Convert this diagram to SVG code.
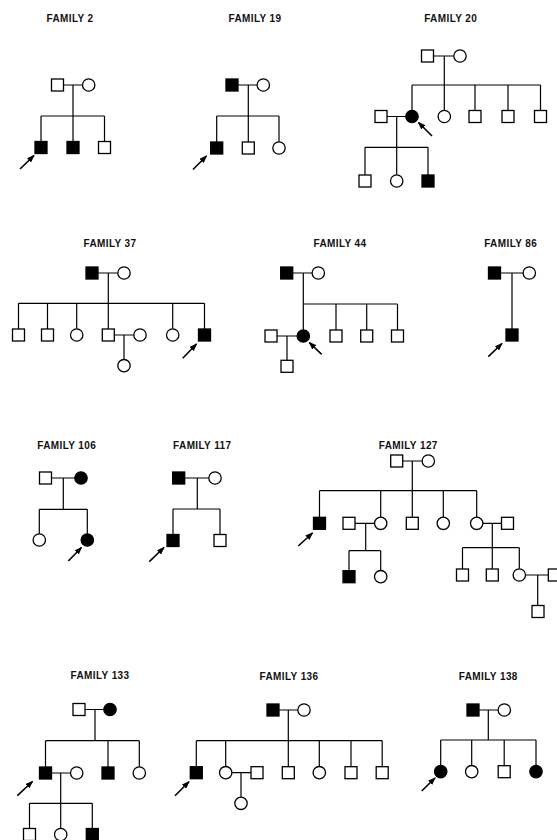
<svg xmlns="http://www.w3.org/2000/svg" xmlns:xlink="http://www.w3.org/1999/xlink" width="557" height="840" viewBox="0 0 557 840">
<style>
.t{font-family:"Liberation Sans",Arial,sans-serif;font-size:10px;font-weight:bold;letter-spacing:0.4px;text-anchor:middle;fill:#111}
.u{fill:#fff;stroke:#000;stroke-width:1.3}
.a{fill:#000;stroke:#000;stroke-width:1.3}
.c path{fill:none;stroke:#000;stroke-width:1.2}
.ar line{stroke:#000;stroke-width:1.6;marker-end:url(#ah)}
</style>
<defs>
<rect id="sq" x="-6" y="-6" width="12" height="12"/>
<circle id="ci" r="6.2"/>
<marker id="ah" viewBox="0 0 8 6" refX="7" refY="3" markerWidth="8" markerHeight="6" orient="auto" markerUnits="userSpaceOnUse"><path d="M0,0 L8,3 L0,6 z" fill="#000"/></marker>
</defs>
<rect width="557" height="840" fill="#fff"/>
<g id="titles">
<text class="t" x="70" y="21.6">FAMILY 2</text>
<text class="t" x="255" y="21.6">FAMILY 19</text>
<text class="t" x="450.7" y="21.6">FAMILY 20</text>
<text class="t" x="110" y="247">FAMILY 37</text>
<text class="t" x="340" y="247">FAMILY 44</text>
<text class="t" x="510.7" y="247">FAMILY 86</text>
<text class="t" x="66.7" y="448.7">FAMILY 106</text>
<text class="t" x="202.3" y="448.7">FAMILY 117</text>
<text class="t" x="408.3" y="448.7">FAMILY 127</text>
<text class="t" x="100" y="679">FAMILY 133</text>
<text class="t" x="289" y="680">FAMILY 136</text>
<text class="t" x="488.3" y="680">FAMILY 138</text>
</g>
<g id="connectors" class="c">
<path d="M63.5 85H82.5M73 85V116M41 116H104.5M41 116V141.5M73 116V141.5M104.5 116V141.5"/>
<path d="M238 85H257M248.3 85V116M216.7 116H279M216.7 116V142M248.3 116V142M279 116V141.8"/>
<path d="M433.5 56H453.8M444.3 56V85M412 85H540.5M412 85V110.3M444.3 85V110.3M475 85V110.5M508 85V110.5M540.5 85V110.5M387 116.5H405.8M396.7 116.5V147.3M365 147.3H428M365 147.3V175M396.7 147.3V174.8M428 147.3V175"/>
<path d="M98 273H117.8M108.3 273V303.3M18.5 303.3H204.5M18.5 303.3V329M47.5 303.3V329M76.7 303.3V328.8M108.3 303.3V329M172.7 303.3V328.8M204.5 303.3V329M114.3 335H133.8M124 335V359.5"/>
<path d="M292.7 273H312.1M303.3 273V329.8M303.3 304H397.5M336 304V330M366.7 304V330M397.5 304V330M277 336H297.1M287 336V360.3"/>
<path d="M500.5 273H523.1M512 273V329"/>
<path d="M51.5 478H74.8M63.3 478V509.3M39.3 509.3H87.3M39.3 509.3V533.8M87.3 509.3V533.8"/>
<path d="M184.7 478H208.8M197.3 478V509M173 509H220M173 509V534.5M220 509V534.5"/>
<path d="M402.7 461H422.1M412.3 461V490.7M319.5 490.7H476.7M319.5 490.7V517.3M380.7 490.7V517.1M412.3 490.7V517.3M443.3 490.7V517.1M476.7 490.7V517.1M355 523.3H374.5M365.7 523.3V550.7M349 550.7H380.7M349 550.7V570.7M380.7 550.7V570.5M483 523.3H501.5M492.3 523.3V547.7M462.5 547.7H519.3M462.5 547.7V569M492.3 547.7V569M519.3 547.7V568.8M525.5 575H548.3M537.7 575V605.5"/>
<path d="M85 709.5H103.8M95 709.5V740.7M45.5 740.7H139.3M45.5 740.7V767M108 740.7V767M139.3 740.7V766.8M51.5 773H70.5M60.7 773V803.3M29.5 803.3H92.3M29.5 803.3V828.5M60.7 803.3V828.3M92.3 803.3V828.5"/>
<path d="M279 710H297.8M288.3 710V740.7M196.3 740.7H382.2M196.3 740.7V766.7M225.7 740.7V766.5M288.3 740.7V766.7M319.3 740.7V766.5M351 740.7V766.7M382.2 740.7V766.7M232 772.7H251M241 772.7V797.1"/>
<path d="M479 710H498.1M488.3 710V740M440.7 740H536M440.7 740V765.5M471.7 740V765.5M504.2 740V765.7M536 740V765.5"/>
</g>
<g id="arrows" class="ar">
<line x1="20" y1="169" x2="34" y2="155.5"/>
<line x1="193" y1="169.5" x2="206.5" y2="156"/>
<line x1="432" y1="136" x2="418.5" y2="122.5"/>
<line x1="182.7" y1="358.3" x2="196.5" y2="344"/>
<line x1="321.7" y1="354.3" x2="309.3" y2="342.5"/>
<line x1="488.3" y1="356.7" x2="502" y2="343.5"/>
<line x1="68.3" y1="561" x2="81.5" y2="547.5"/>
<line x1="149.3" y1="561.7" x2="164" y2="547.5"/>
<line x1="298.3" y1="546" x2="312.5" y2="533"/>
<line x1="17.3" y1="795.7" x2="32.5" y2="781.5"/>
<line x1="175" y1="795.7" x2="189" y2="781.7"/>
<line x1="421.7" y1="791" x2="435" y2="778"/>
</g>
<g id="family2">
<g id="f2-father"><use href="#sq" class="u" x="57.5" y="85"/></g>
<g id="f2-mother"><use href="#ci" class="u" x="88.7" y="85"/></g>
<g id="f2-son1"><use href="#sq" class="a" x="41" y="147.5"/></g>
<g id="f2-son2"><use href="#sq" class="a" x="73" y="147.5"/></g>
<g id="f2-son3"><use href="#sq" class="u" x="104.5" y="147.5"/></g>
</g>
<g id="family19">
<g id="f19-father"><use href="#sq" class="a" x="232" y="85"/></g>
<g id="f19-mother"><use href="#ci" class="u" x="263.3" y="85"/></g>
<g id="f19-son1"><use href="#sq" class="a" x="216.7" y="148"/></g>
<g id="f19-son2"><use href="#sq" class="u" x="248.3" y="148"/></g>
<g id="f19-daughter"><use href="#ci" class="u" x="279" y="148"/></g>
</g>
<g id="family20">
<g id="f20-father"><use href="#sq" class="u" x="427.5" y="56"/></g>
<g id="f20-mother"><use href="#ci" class="u" x="460" y="56"/></g>
<g id="f20-proband"><use href="#ci" class="a" x="412" y="116.5"/></g>
<g id="f20-spouse"><use href="#sq" class="u" x="381" y="116.5"/></g>
<g id="f20-daughter"><use href="#ci" class="u" x="444.3" y="116.5"/></g>
<g id="f20-son1"><use href="#sq" class="u" x="475" y="116.5"/></g>
<g id="f20-son2"><use href="#sq" class="u" x="508" y="116.5"/></g>
<g id="f20-son3"><use href="#sq" class="u" x="540.5" y="116.5"/></g>
<g id="f20-gc1"><use href="#sq" class="u" x="365" y="181"/></g>
<g id="f20-gc2"><use href="#ci" class="u" x="396.7" y="181"/></g>
<g id="f20-gc3"><use href="#sq" class="a" x="428" y="181"/></g>
</g>
<g id="family37">
<g id="f37-father"><use href="#sq" class="a" x="92" y="273"/></g>
<g id="f37-mother"><use href="#ci" class="u" x="124" y="273"/></g>
<g id="f37-c1"><use href="#sq" class="u" x="18.5" y="335"/></g>
<g id="f37-c2"><use href="#sq" class="u" x="47.5" y="335"/></g>
<g id="f37-c3"><use href="#ci" class="u" x="76.7" y="335"/></g>
<g id="f37-c4"><use href="#sq" class="u" x="108.3" y="335"/></g>
<g id="f37-spouse"><use href="#ci" class="u" x="140" y="335"/></g>
<g id="f37-c5"><use href="#ci" class="u" x="172.7" y="335"/></g>
<g id="f37-proband"><use href="#sq" class="a" x="204.5" y="335"/></g>
<g id="f37-gc"><use href="#ci" class="u" x="124" y="365.7"/></g>
</g>
<g id="family44">
<g id="f44-father"><use href="#sq" class="a" x="286.7" y="273"/></g>
<g id="f44-mother"><use href="#ci" class="u" x="318.3" y="273"/></g>
<g id="f44-proband"><use href="#ci" class="a" x="303.3" y="336"/></g>
<g id="f44-spouse"><use href="#sq" class="u" x="271" y="336"/></g>
<g id="f44-c1"><use href="#sq" class="u" x="336" y="336"/></g>
<g id="f44-c2"><use href="#sq" class="u" x="366.7" y="336"/></g>
<g id="f44-c3"><use href="#sq" class="u" x="397.5" y="336"/></g>
<g id="f44-gc"><use href="#sq" class="u" x="287" y="366.3"/></g>
</g>
<g id="family86">
<g id="f86-father"><use href="#sq" class="a" x="494.5" y="273"/></g>
<g id="f86-mother"><use href="#ci" class="u" x="529.3" y="273"/></g>
<g id="f86-proband"><use href="#sq" class="a" x="512" y="335"/></g>
</g>
<g id="family106">
<g id="f106-father"><use href="#sq" class="u" x="45.5" y="478"/></g>
<g id="f106-mother"><use href="#ci" class="a" x="81" y="478"/></g>
<g id="f106-c1"><use href="#ci" class="u" x="39.3" y="540"/></g>
<g id="f106-proband"><use href="#ci" class="a" x="87.3" y="540"/></g>
</g>
<g id="family117">
<g id="f117-father"><use href="#sq" class="a" x="178.7" y="478"/></g>
<g id="f117-mother"><use href="#ci" class="u" x="215" y="478"/></g>
<g id="f117-proband"><use href="#sq" class="a" x="173" y="540.5"/></g>
<g id="f117-c2"><use href="#sq" class="u" x="220" y="540.5"/></g>
</g>
<g id="family127">
<g id="f127-father"><use href="#sq" class="u" x="396.7" y="461"/></g>
<g id="f127-mother"><use href="#ci" class="u" x="428.3" y="461"/></g>
<g id="f127-proband"><use href="#sq" class="a" x="319.5" y="523.3"/></g>
<g id="f127-spouse1"><use href="#sq" class="u" x="349" y="523.3"/></g>
<g id="f127-c2"><use href="#ci" class="u" x="380.7" y="523.3"/></g>
<g id="f127-c3"><use href="#sq" class="u" x="412.3" y="523.3"/></g>
<g id="f127-c4"><use href="#ci" class="u" x="443.3" y="523.3"/></g>
<g id="f127-c5"><use href="#ci" class="u" x="476.7" y="523.3"/></g>
<g id="f127-spouse2"><use href="#sq" class="u" x="507.5" y="523.3"/></g>
<g id="f127-gc1"><use href="#sq" class="a" x="349" y="576.7"/></g>
<g id="f127-gc2"><use href="#ci" class="u" x="380.7" y="576.7"/></g>
<g id="f127-gc3"><use href="#sq" class="u" x="462.5" y="575"/></g>
<g id="f127-gc4"><use href="#sq" class="u" x="492.3" y="575"/></g>
<g id="f127-gc5"><use href="#ci" class="u" x="519.3" y="575"/></g>
<g id="f127-spouse3"><use href="#sq" class="u" x="554.3" y="575"/></g>
<g id="f127-ggc"><use href="#sq" class="u" x="538" y="611.5"/></g>
</g>
<g id="family133">
<g id="f133-father"><use href="#sq" class="u" x="79" y="709.5"/></g>
<g id="f133-mother"><use href="#ci" class="a" x="110" y="709.5"/></g>
<g id="f133-proband"><use href="#sq" class="a" x="45.5" y="773"/></g>
<g id="f133-spouse"><use href="#ci" class="u" x="76.7" y="773"/></g>
<g id="f133-c2"><use href="#sq" class="a" x="108" y="773"/></g>
<g id="f133-c3"><use href="#ci" class="u" x="139.3" y="773"/></g>
<g id="f133-gc1"><use href="#sq" class="u" x="29.5" y="834.5"/></g>
<g id="f133-gc2"><use href="#ci" class="u" x="60.7" y="834.5"/></g>
<g id="f133-gc3"><use href="#sq" class="a" x="92.3" y="834.5"/></g>
</g>
<g id="family136">
<g id="f136-father"><use href="#sq" class="a" x="273" y="710"/></g>
<g id="f136-mother"><use href="#ci" class="u" x="304" y="710"/></g>
<g id="f136-proband"><use href="#sq" class="a" x="196.3" y="772.7"/></g>
<g id="f136-c2"><use href="#ci" class="u" x="225.7" y="772.7"/></g>
<g id="f136-spouse"><use href="#sq" class="u" x="257" y="772.7"/></g>
<g id="f136-c3"><use href="#sq" class="u" x="288.3" y="772.7"/></g>
<g id="f136-c4"><use href="#ci" class="u" x="319.3" y="772.7"/></g>
<g id="f136-c5"><use href="#sq" class="u" x="351" y="772.7"/></g>
<g id="f136-c6"><use href="#sq" class="u" x="382.2" y="772.7"/></g>
<g id="f136-gc"><use href="#ci" class="u" x="241" y="803.3"/></g>
</g>
<g id="family138">
<g id="f138-father"><use href="#sq" class="a" x="473" y="710"/></g>
<g id="f138-mother"><use href="#ci" class="u" x="504.3" y="710"/></g>
<g id="f138-proband"><use href="#ci" class="a" x="440.7" y="771.7"/></g>
<g id="f138-c2"><use href="#ci" class="u" x="471.7" y="771.7"/></g>
<g id="f138-c3"><use href="#sq" class="u" x="504.2" y="771.7"/></g>
<g id="f138-c4"><use href="#ci" class="a" x="536" y="771.7"/></g>
</g>
</svg>
